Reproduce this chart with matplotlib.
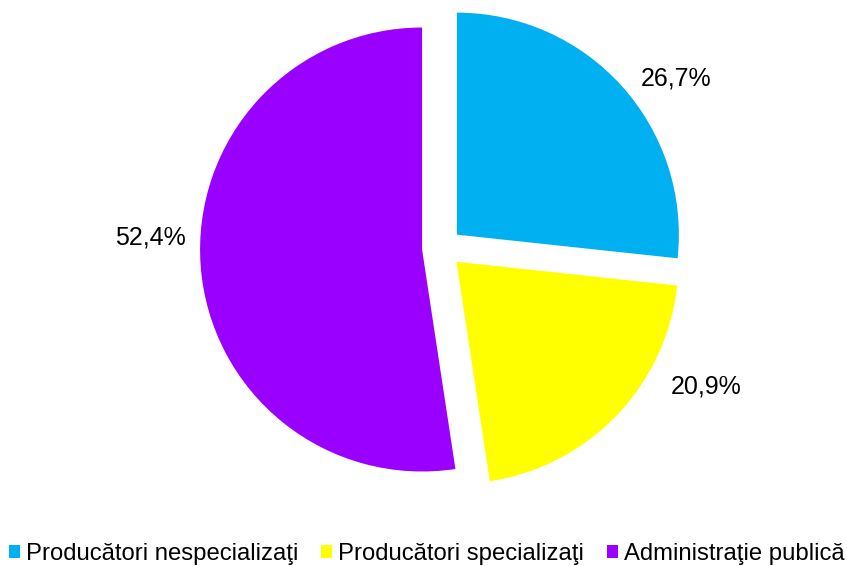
import numpy as np
import matplotlib
matplotlib.use('Agg')
import matplotlib.pyplot as plt
from matplotlib.patches import Patch

labels = ['Producători nespecializaţi', 'Producători specializaţi', 'Administraţie publică']
values = [26.7, 20.9, 52.4]
colors = ['#00B0F0', '#FFFF00', '#9900FF']
# label placement (angle in degrees, distance in radii) relative to each exploded slice apex
label_pos = [(35.5, 1.215), (-26.5, 1.255), (177.5, 1.225)]

plt.rcParams['font.family'] = ['Liberation Sans', 'DejaVu Sans']

fig = plt.figure(figsize=(8.47, 5.66), dpi=100)
ax = fig.add_axes([0, 0, 1, 1])

explode = 0.09
wedges, _ = ax.pie(values, colors=colors, startangle=90, counterclock=False,
                   explode=[explode] * 3, radius=1, wedgeprops=dict(linewidth=0))

start = 90
for v, (ang, dist) in zip(values, label_pos):
    span = v / 100 * 360
    mid = np.radians(start - span / 2)
    ox, oy = explode * np.cos(mid), explode * np.sin(mid)
    a = np.radians(ang)
    ax.text(ox + dist * np.cos(a), oy + dist * np.sin(a),
            f'{v:.1f}%'.replace('.', ','), ha='center', va='center', fontsize=18)
    start -= span

# 1 unit = 222 px, pie centre at pixel (442, 248)
ax.set_aspect('auto')
ax.set_xlim(-442 / 222, (847 - 442) / 222)
ax.set_ylim(-(566 - 248) / 222, 248 / 222)
ax.axis('off')

handles = [Patch(facecolor=c, edgecolor='none') for c in colors]
fig.legend(handles, labels, loc='center', bbox_to_anchor=(427 / 847, 1 - 554 / 566), ncol=3,
           frameon=False, fontsize=17.2, handlelength=0.46, handleheight=0.5,
           handletextpad=0.25, columnspacing=0.95, borderaxespad=0, borderpad=0)

fig.savefig('out.png', dpi=100)
